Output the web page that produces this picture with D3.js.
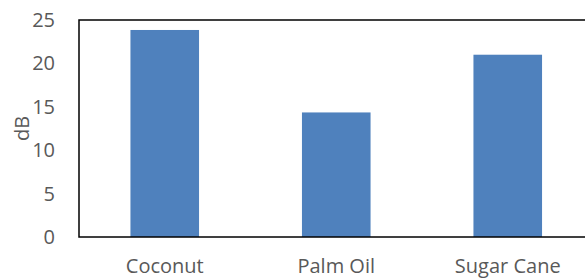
<!DOCTYPE html>
<html>
<head>
<meta charset="utf-8">
<script src="https://cdn.jsdelivr.net/npm/d3@7"></script>
<style>
  body { margin: 0; background: #fff; }
  svg { display: block; }
  .tick text, .label { font-family: "Open Sans", sans-serif; fill: #595959; }
</style>
</head>
<body>
<div id="barGraph"></div>
<script>
const categories = ["Coconut", "Palm Oil", "Sugar Cane"];
const values = [23.85, 14.35, 21.0];
const yTicks = [0, 5, 10, 15, 20, 25];
const yAxisTitle = "dB";

const width = 585, height = 280;
const margin = { top: 20, left: 79, bottom: 43 };
const plotW = 514.5;
const plotH = height - margin.top - margin.bottom;

const svg = d3.select("#barGraph").append("svg")
  .attr("width", width)
  .attr("height", height);

const chart = svg.append("g")
  .attr("transform", `translate(${margin.left}, ${margin.top})`);

const xScale = d3.scaleBand()
  .domain(categories)
  .range([0, plotW])
  .paddingInner(0.6)
  .paddingOuter(0.3);

const yScale = d3.scaleLinear()
  .domain([0, 25])
  .range([plotH, 0]);

// bars
chart.selectAll("rect.bar")
  .data(categories.map((c, i) => ({ c, v: values[i] })))
  .enter()
  .append("rect")
  .attr("class", "bar")
  .attr("x", d => xScale(d.c))
  .attr("y", d => yScale(d.v))
  .attr("width", xScale.bandwidth())
  .attr("height", d => plotH - yScale(d.v))
  .style("fill", "#4f81bd");

// plot border (right side falls off the canvas)
chart.append("rect")
  .attr("x", 0)
  .attr("y", 0)
  .attr("width", plotW)
  .attr("height", plotH)
  .style("fill", "none")
  .style("stroke", "#000")
  .style("stroke-width", 1.5);

// y axis labels
const yAxis = chart.append("g")
  .call(d3.axisLeft(yScale).tickValues(yTicks).tickSize(0).tickPadding(24));
yAxis.select(".domain").remove();
yAxis.selectAll("text").style("font-size", "20px");

// x axis labels
const xAxis = chart.append("g")
  .attr("transform", `translate(0, ${plotH})`)
  .call(d3.axisBottom(xScale).tickSize(0).tickPadding(22));
xAxis.select(".domain").remove();
xAxis.selectAll("text").style("font-size", "20px");

// y title
svg.append("text")
  .attr("class", "label")
  .attr("transform", `translate(21, ${margin.top + plotH / 2}) rotate(-90)`)
  .attr("text-anchor", "middle")
  .attr("dominant-baseline", "central")
  .style("font-size", "20px")
  .text(yAxisTitle);
</script>
</body>
</html>
